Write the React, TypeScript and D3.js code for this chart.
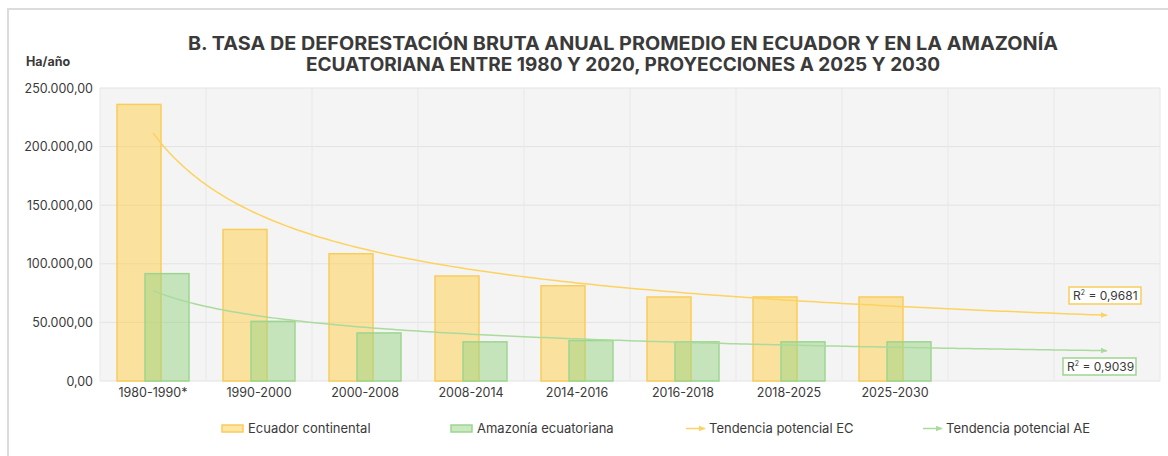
import React, { useEffect, useRef } from 'react'
import * as d3 from 'd3'

const W = 1168
const H = 456

const CATEGORIES = ['1980-1990*', '1990-2000', '2000-2008', '2008-2014', '2014-2016', '2016-2018', '2018-2025', '2025-2030']
const FORECAST_SLOTS = 2 // empty slots the trendlines run into
const ECUADOR = [236000, 129300, 108600, 89600, 81300, 71700, 71700, 71700]
const AMAZONIA = [91600, 50900, 41000, 33400, 34500, 33400, 33400, 33400]
const Y_TICKS = [0, 50000, 100000, 150000, 200000, 250000]
const R2_EC = '0,9681'
const R2_AE = '0,9039'

const TITLE = [
  'B. TASA DE DEFORESTACIÓN BRUTA ANUAL PROMEDIO EN ECUADOR Y EN LA AMAZONÍA',
  'ECUATORIANA ENTRE 1980 Y 2020, PROYECCIONES A 2025 Y 2030',
]
const TITLE_WIDTHS = [870, 634]

const EC_FILL = 'rgba(255,208,72,0.5)'
const EC_STROKE = '#f9cd5d'
const AE_FILL = 'rgba(150,212,132,0.5)'
const AE_STROKE = '#9dd590'
const EC_TREND = '#fcd360'
const AE_TREND = '#aadb9c'
const TEXT = '#3a3a3a'
const FONT = 'Inter, "Open Sans", sans-serif'

// power trend y = a * x^b, least squares in log-log space (same as Excel's)
function powerFit(ys: number[]) {
  const lx = ys.map((_, i) => Math.log(i + 1))
  const ly = ys.map(v => Math.log(v))
  const mx = d3.mean(lx) as number
  const my = d3.mean(ly) as number
  let sxy = 0, sxx = 0
  lx.forEach((x, i) => { sxy += (x - mx) * (ly[i] - my); sxx += (x - mx) ** 2 })
  const b = sxy / sxx
  const a = Math.exp(my - b * mx)
  return (x: number) => a * Math.pow(x, b)
}

const locale = d3.formatLocale({ decimal: ',', thousands: '.', grouping: [3], currency: ['', ''] })
const fmt = locale.format(',.2f')

export default function App() {
  const ref = useRef<SVGSVGElement>(null)

  useEffect(() => {
    const svg = d3.select(ref.current)
    svg.selectAll('*').remove()

    const margin = { left: 100, right: 8, top: 88, bottom: 75 }
    const x0 = margin.left, x1 = W - margin.right
    const y0 = H - margin.bottom, y1 = margin.top
    const nSlots = CATEGORIES.length + FORECAST_SLOTS

    const xBand = d3.scaleBand<number>().domain(d3.range(nSlots)).range([x0, x1]).padding(0)
    const bw = xBand.bandwidth()
    // continuous x: 1-based category index -> band center
    const xLin = d3.scaleLinear().domain([0.5, nSlots + 0.5]).range([x0, x1])
    const y = d3.scaleLinear().domain([0, 250000]).range([y0, y1])

    const defs = svg.append('defs')
    ;[['arrEC', EC_TREND], ['arrAE', AE_TREND]].forEach(([id, c]) => {
      defs.append('marker').attr('id', id).attr('viewBox', '0 0 10 10')
        .attr('refX', 9).attr('refY', 5).attr('markerWidth', 7).attr('markerHeight', 7)
        .attr('markerUnits', 'userSpaceOnUse').attr('orient', 'auto')
        .append('path').attr('d', 'M0,1 L10,5 L0,9 Z').attr('fill', c)
    })

    // outer frame
    svg.append('rect').attr('x', 8).attr('y', 9).attr('width', W + 10).attr('height', H + 10)
      .attr('fill', '#fff').attr('stroke', '#dcdcdc').attr('stroke-width', 2)

    // title
    TITLE.forEach((t, i) => {
      svg.append('text').attr('x', 623).attr('y', 50 + i * 21)
        .attr('text-anchor', 'middle').attr('font-family', FONT).attr('font-weight', 700)
        .attr('font-size', 18.5).attr('fill', TEXT)
        .attr('textLength', TITLE_WIDTHS[i]).attr('lengthAdjust', 'spacingAndGlyphs').text(t)
    })
    svg.append('text').attr('x', 26).attr('y', 66).attr('font-family', FONT)
      .attr('font-weight', 700).attr('font-size', 12.5).attr('fill', TEXT).text('Ha/año')

    // plot background + grid
    svg.append('rect').attr('x', x0).attr('y', y1).attr('width', x1 - x0).attr('height', y0 - y1)
      .attr('fill', '#f4f4f4')
    svg.append('g').selectAll('line').data(Y_TICKS).join('line')
      .attr('x1', x0).attr('x2', x1).attr('y1', d => y(d)).attr('y2', d => y(d))
      .attr('stroke', '#e3e3e3').attr('stroke-width', 1)
    svg.append('g').selectAll('line').data(d3.range(nSlots + 1)).join('line')
      .attr('x1', d => x0 + d * bw).attr('x2', d => x0 + d * bw).attr('y1', y1).attr('y2', y0)
      .attr('stroke', '#e8e8e8').attr('stroke-width', 1)

    // y axis labels
    svg.append('g').selectAll('text').data(Y_TICKS).join('text')
      .attr('x', 93).attr('y', d => y(d) + 4.5).attr('text-anchor', 'end')
      .attr('font-family', FONT).attr('font-size', 12.5).attr('fill', TEXT).text(d => fmt(d))

    // x axis labels
    svg.append('g').selectAll('text').data(CATEGORIES).join('text')
      .attr('x', (_, i) => (xBand(i) as number) + bw / 2).attr('y', 397)
      .attr('text-anchor', 'middle').attr('font-family', FONT).attr('font-size', 12.5)
      .attr('fill', TEXT).text(d => d)

    // bars (overlapping pair)
    const barW = bw * 0.415
    const off = bw * 0.132
    const drawBars = (vals: number[], dx: number, fill: string, stroke: string) => {
      svg.append('g').selectAll('rect').data(vals).join('rect')
        .attr('x', (_, i) => (xBand(i) as number) + bw / 2 + dx - barW / 2)
        .attr('y', d => y(d)).attr('width', barW).attr('height', d => y0 - y(d))
        .attr('fill', fill).attr('stroke', stroke).attr('stroke-width', 1.5)
    }
    drawBars(ECUADOR, -off, EC_FILL, EC_STROKE)
    drawBars(AMAZONIA, off, AE_FILL, AE_STROKE)

    // trendlines
    const xs = d3.range(1, nSlots + 0.001, 0.05)
    const line = (f: (x: number) => number) =>
      d3.line<number>().x(d => xLin(d)).y(d => y(f(d))).curve(d3.curveLinear)(xs)
    const fEC = powerFit(ECUADOR)
    const fAE = powerFit(AMAZONIA)
    svg.append('path').attr('d', line(fEC)).attr('fill', 'none').attr('stroke', EC_TREND)
      .attr('stroke-width', 1.5).attr('marker-end', 'url(#arrEC)')
    svg.append('path').attr('d', line(fAE)).attr('fill', 'none').attr('stroke', AE_TREND)
      .attr('stroke-width', 1.5).attr('marker-end', 'url(#arrAE)')

    // R² boxes
    const r2Box = (bx: number, by: number, w: number, val: string, stroke: string) => {
      svg.append('rect').attr('x', bx).attr('y', by).attr('width', w).attr('height', 17)
        .attr('fill', '#fff').attr('stroke', stroke).attr('stroke-width', 1.5)
      const t = svg.append('text').attr('x', bx + 4).attr('y', by + 13)
        .attr('font-family', FONT).attr('font-size', 12).attr('fill', TEXT)
      t.append('tspan').text('R')
      t.append('tspan').attr('font-size', 7).attr('dy', -5).text('2')
      t.append('tspan').attr('dy', 5).text(` = ${val}`)
    }
    r2Box(1069, 287, 72, R2_EC, EC_STROKE)
    r2Box(1063, 358, 73, R2_AE, AE_STROKE)

    // legend
    const lg = svg.append('g').attr('font-family', FONT).attr('font-size', 13).attr('fill', TEXT)
    const items = [
      { x: 222, label: 'Ecuador continental', kind: 'bar', fill: EC_FILL, stroke: EC_STROKE },
      { x: 451, label: 'Amazonía ecuatoriana', kind: 'bar', fill: AE_FILL, stroke: AE_STROKE },
      { x: 686, label: 'Tendencia potencial EC', kind: 'line', stroke: EC_TREND, m: 'arrEC' },
      { x: 923, label: 'Tendencia potencial AE', kind: 'line', stroke: AE_TREND, m: 'arrAE' },
    ]
    items.forEach(it => {
      if (it.kind === 'bar') {
        lg.append('rect').attr('x', it.x).attr('y', 425).attr('width', 21).attr('height', 7)
          .attr('fill', it.fill as string).attr('stroke', it.stroke).attr('stroke-width', 1.5)
      } else {
        lg.append('line').attr('x1', it.x).attr('x2', it.x + 19).attr('y1', 428.5).attr('y2', 428.5)
          .attr('stroke', it.stroke).attr('stroke-width', 1.5).attr('marker-end', `url(#${it.m})`)
      }
      lg.append('text').attr('x', it.x + (it.kind === 'bar' ? 26 : 23)).attr('y', 433).text(it.label)
    })
  }, [])

  return (
    <svg ref={ref} width={W} height={H}
      style={{ position: 'absolute', left: 0, top: 0, display: 'block', background: '#fff' }} />
  )
}
